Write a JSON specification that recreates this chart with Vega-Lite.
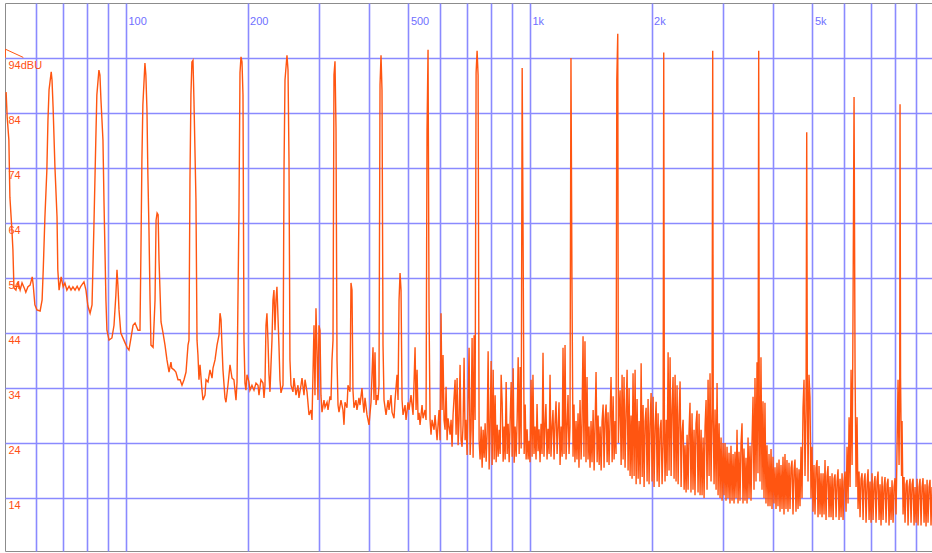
{
"$schema": "https://vega.github.io/schema/vega-lite/v6.json",
"width": 927, "height": 548,
"autosize": {"type": "none"},
"padding": {"left": 5, "top": 3, "right": 0, "bottom": 2},
"background": "white",
"config": {"view": {"stroke": "#8c8c8c", "strokeWidth": 1}},
"datasets": {
"tri": [{"i":0,"f":55.7,"db":94.1},{"i":1,"f":50.3,"db":95.6},{"i":2,"f":50.3,"db":94.1}],
"spec": [
{"f":50.5,"db":87.8},{"f":50.8,"db":83.3},{"f":51.3,"db":79.1},{"f":51.6,"db":68.7},{"f":52.2,"db":62.7},{"f":52.5,"db":59.1},{"f":52.8,"db":52.2},{"f":53.4,"db":51.8},{"f":54.0,"db":53.3},{"f":54.7,"db":51.8},{"f":55.3,"db":53.1},{"f":56.0,"db":52.2},{"f":56.5,"db":51.4},{"f":57.2,"db":52.4},{"f":57.9,"db":52.7},{"f":58.6,"db":54.2},{"f":58.9,"db":52.9},{"f":59.5,"db":49.1},{"f":60.2,"db":48.2},{"f":61.3,"db":48.0},{"f":62.0,"db":50.0},{"f":62.4,"db":55.5},{"f":63.0,"db":65.1},{"f":63.7,"db":73.6},{"f":64.1,"db":82.7},{"f":64.5,"db":88.2},{"f":65.3,"db":91.5},{"f":65.6,"db":90.0},{"f":66.0,"db":85.1},{"f":66.7,"db":74.2},{"f":67.5,"db":65.1},{"f":67.8,"db":55.5},{"f":68.3,"db":51.8},{"f":69.1,"db":54.2},{"f":69.9,"db":52.4},{"f":70.6,"db":53.1},{"f":71.4,"db":51.8},{"f":72.3,"db":52.5},{"f":73.1,"db":51.8},{"f":73.9,"db":52.4},{"f":74.8,"db":51.8},{"f":75.7,"db":52.5},{"f":76.5,"db":51.8},{"f":77.3,"db":52.5},{"f":78.7,"db":53.3},{"f":79.6,"db":51.8},{"f":80.5,"db":48.9},{"f":81.5,"db":47.6},{"f":82.4,"db":49.1},{"f":83.3,"db":63.6},{"f":84.2,"db":79.1},{"f":84.7,"db":87.3},{"f":85.7,"db":91.8},{"f":86.2,"db":90.9},{"f":86.7,"db":86.4},{"f":87.7,"db":79.1},{"f":88.2,"db":68.2},{"f":89.2,"db":50.0},{"f":89.7,"db":44.5},{"f":90.8,"db":42.7},{"f":92.3,"db":43.1},{"f":93.4,"db":45.4},{"f":94.4,"db":50.9},{"f":95.0,"db":55.5},{"f":95.5,"db":52.7},{"f":96.1,"db":48.2},{"f":97.1,"db":44.0},{"f":98.8,"db":42.7},{"f":100.6,"db":41.4},{"f":101.7,"db":40.9},{"f":102.9,"db":43.1},{"f":104.1,"db":45.4},{"f":105.3,"db":45.8},{"f":107.1,"db":44.5},{"f":108.3,"db":44.5},{"f":108.9,"db":59.1},{"f":109.5,"db":75.5},{"f":110.1,"db":85.5},{"f":111.4,"db":93.1},{"f":112.0,"db":90.9},{"f":112.7,"db":84.5},{"f":113.3,"db":72.7},{"f":114.0,"db":62.7},{"f":114.7,"db":50.0},{"f":115.3,"db":41.8},{"f":116.7,"db":41.4},{"f":118.0,"db":50.0},{"f":118.7,"db":64.5},{"f":119.4,"db":65.8},{"f":120.1,"db":65.5},{"f":120.7,"db":57.3},{"f":122.1,"db":46.0},{"f":123.5,"db":44.0},{"f":124.9,"db":41.8},{"f":126.3,"db":39.1},{"f":127.8,"db":36.9},{"f":129.2,"db":38.7},{"f":129.8,"db":37.6},{"f":131.5,"db":37.3},{"f":132.9,"db":36.9},{"f":134.5,"db":35.5},{"f":136.1,"db":35.5},{"f":137.6,"db":34.5},{"f":139.2,"db":35.5},{"f":140.8,"db":36.9},{"f":142.4,"db":41.8},{"f":143.2,"db":42.7},{"f":144.0,"db":71.8},{"f":144.8,"db":87.3},{"f":145.6,"db":93.3},{"f":146.5,"db":93.6},{"f":147.3,"db":86.4},{"f":149.0,"db":68.2},{"f":149.9,"db":42.7},{"f":150.7,"db":40.0},{"f":151.6,"db":35.5},{"f":152.5,"db":38.2},{"f":154.2,"db":33.6},{"f":155.1,"db":31.8},{"f":156.9,"db":32.7},{"f":157.8,"db":35.5},{"f":159.6,"db":35.1},{"f":161.4,"db":37.3},{"f":163.3,"db":35.8},{"f":164.2,"db":37.6},{"f":166.1,"db":39.1},{"f":168.0,"db":41.8},{"f":169.9,"db":43.6},{"f":170.9,"db":47.6},{"f":171.9,"db":46.4},{"f":172.8,"db":41.8},{"f":173.8,"db":37.3},{"f":175.8,"db":32.2},{"f":176.8,"db":31.4},{"f":178.8,"db":34.5},{"f":180.9,"db":38.2},{"f":183.0,"db":35.8},{"f":185.0,"db":35.5},{"f":187.2,"db":31.8},{"f":188.3,"db":35.1},{"f":190.4,"db":66.4},{"f":191.5,"db":91.3},{"f":192.6,"db":94.2},{"f":193.7,"db":93.3},{"f":194.8,"db":87.3},{"f":195.9,"db":42.7},{"f":197.0,"db":34.9},{"f":198.1,"db":33.6},{"f":199.3,"db":36.4},{"f":201.5,"db":35.1},{"f":202.7,"db":33.6},{"f":205.0,"db":34.5},{"f":207.4,"db":33.6},{"f":209.8,"db":34.9},{"f":212.2,"db":34.5},{"f":213.4,"db":32.7},{"f":215.8,"db":35.5},{"f":218.3,"db":34.9},{"f":219.6,"db":32.2},{"f":220.8,"db":34.5},{"f":222.1,"db":45.4},{"f":223.3,"db":47.6},{"f":224.6,"db":42.7},{"f":225.9,"db":36.4},{"f":227.2,"db":33.3},{"f":228.5,"db":38.2},{"f":229.8,"db":42.7},{"f":231.1,"db":50.0},{"f":232.4,"db":51.8},{"f":233.8,"db":44.5},{"f":235.1,"db":50.0},{"f":236.4,"db":52.4},{"f":239.1,"db":41.8},{"f":240.5,"db":35.5},{"f":241.9,"db":33.1},{"f":244.7,"db":34.5},{"f":246.1,"db":73.6},{"f":247.5,"db":90.0},{"f":250.3,"db":94.5},{"f":251.8,"db":91.8},{"f":253.2,"db":75.5},{"f":254.6,"db":39.1},{"f":256.1,"db":34.5},{"f":259.0,"db":33.3},{"f":260.5,"db":35.8},{"f":263.5,"db":32.7},{"f":266.5,"db":34.5},{"f":268.0,"db":32.2},{"f":271.1,"db":34.5},{"f":272.7,"db":35.8},{"f":275.8,"db":32.7},{"f":277.4,"db":35.5},{"f":280.6,"db":33.3},{"f":283.8,"db":29.1},{"f":287.0,"db":30.0},{"f":288.7,"db":28.2},{"f":292.0,"db":45.4},{"f":293.6,"db":32.7},{"f":295.3,"db":48.5},{"f":297.0,"db":40.9},{"f":298.7,"db":31.8},{"f":300.4,"db":45.4},{"f":302.1,"db":44.5},{"f":303.8,"db":32.7},{"f":305.6,"db":29.6},{"f":309.1,"db":31.8},{"f":310.9,"db":30.5},{"f":314.5,"db":31.4},{"f":316.3,"db":30.0},{"f":319.8,"db":32.5},{"f":321.7,"db":31.8},{"f":323.5,"db":39.1},{"f":325.4,"db":42.7},{"f":327.2,"db":90.9},{"f":329.1,"db":93.4},{"f":331.0,"db":81.3},{"f":332.9,"db":39.1},{"f":334.8,"db":30.9},{"f":336.7,"db":29.6},{"f":340.5,"db":31.8},{"f":344.4,"db":30.0},{"f":346.4,"db":27.3},{"f":348.4,"db":31.4},{"f":352.4,"db":30.4},{"f":354.4,"db":34.5},{"f":358.5,"db":33.3},{"f":360.5,"db":53.1},{"f":362.6,"db":51.8},{"f":364.6,"db":33.6},{"f":366.7,"db":30.4},{"f":370.9,"db":31.8},{"f":373.0,"db":30.0},{"f":377.3,"db":32.2},{"f":379.5,"db":30.9},{"f":383.8,"db":34.0},{"f":386.0,"db":31.4},{"f":388.2,"db":29.5},{"f":390.5,"db":32.2},{"f":395.0,"db":29.1},{"f":399.5,"db":27.3},{"f":404.1,"db":31.4},{"f":408.7,"db":41.4},{"f":411.0,"db":31.8},{"f":413.4,"db":40.5},{"f":415.8,"db":30.9},{"f":418.1,"db":32.7},{"f":420.5,"db":31.8},{"f":422.9,"db":34.5},{"f":425.4,"db":89.1},{"f":427.8,"db":94.5},{"f":430.2,"db":88.2},{"f":432.7,"db":41.8},{"f":435.2,"db":31.8},{"f":440.2,"db":29.1},{"f":445.3,"db":31.8},{"f":447.8,"db":30.0},{"f":452.9,"db":32.7},{"f":455.5,"db":29.6},{"f":460.7,"db":28.5},{"f":463.4,"db":31.8},{"f":468.7,"db":36.4},{"f":471.4,"db":31.8},{"f":474.1,"db":50.0},{"f":476.8,"db":54.9},{"f":479.5,"db":51.8},{"f":482.3,"db":31.8},{"f":485.0,"db":29.1},{"f":490.6,"db":30.9},{"f":493.4,"db":28.2},{"f":499.0,"db":31.4},{"f":501.9,"db":30.0},{"f":507.6,"db":32.7},{"f":513.5,"db":29.1},{"f":516.4,"db":35.1},{"f":519.4,"db":41.4},{"f":522.4,"db":30.0},{"f":525.4,"db":37.3},{"f":528.4,"db":28.2},{"f":531.4,"db":29.5},{"f":534.4,"db":27.3},{"f":540.5,"db":30.9},{"f":543.6,"db":28.5},{"f":549.8,"db":30.0},{"f":553.0,"db":28.2},{"f":556.1,"db":80.9},{"f":559.3,"db":95.5},{"f":562.5,"db":48.2},{"f":565.7,"db":28.2},{"f":568.9,"db":25.5},{"f":572.2,"db":28.2},{"f":578.8,"db":26.4},{"f":582.1,"db":29.1},{"f":588.8,"db":24.5},{"f":592.2,"db":27.3},{"f":595.5,"db":30.0},{"f":598.9,"db":24.5},{"f":602.3,"db":47.6},{"f":605.8,"db":30.0},{"f":609.2,"db":40.0},{"f":612.7,"db":28.2},{"f":616.3,"db":26.4},{"f":619.8,"db":34.2},{"f":623.4,"db":24.5},{"f":626.9,"db":28.5},{"f":634.1,"db":25.5},{"f":637.7,"db":28.2},{"f":641.4,"db":23.3},{"f":645.0,"db":29.1},{"f":652.5,"db":35.5},{"f":656.2,"db":25.5},{"f":660.0,"db":35.8},{"f":663.8,"db":23.6},{"f":667.5,"db":28.2},{"f":671.3,"db":38.2},{"f":675.2,"db":24.5},{"f":679.0,"db":23.3},{"f":682.9,"db":27.3},{"f":686.8,"db":39.5},{"f":690.8,"db":24.5},{"f":694.7,"db":28.2},{"f":698.7,"db":21.8},{"f":702.7,"db":31.8},{"f":706.7,"db":41.3},{"f":710.8,"db":21.8},{"f":714.8,"db":26.4},{"f":718.9,"db":43.1},{"f":723.0,"db":21.3},{"f":727.2,"db":43.6},{"f":731.3,"db":28.2},{"f":735.5,"db":91.3},{"f":739.7,"db":95.3},{"f":743.9,"db":90.9},{"f":748.2,"db":24.5},
{"f":752.5,"db":21.0},{"f":756.9,"db":27.0},{"f":761.2,"db":19.5},{"f":765.6,"db":26.4},{"f":770.0,"db":21.3},{"f":774.3,"db":27.6},{"f":778.8,"db":20.6},{"f":783.3,"db":26.0},{"f":787.7,"db":40.7},{"f":792.2,"db":19.2},{"f":796.7,"db":27.0},{"f":801.3,"db":38.9},{"f":805.9,"db":20.0},{"f":810.6,"db":37.3},{"f":815.2,"db":21.0},{"f":819.8,"db":32.7},{"f":824.5,"db":20.5},{"f":829.3,"db":27.3},{"f":834.0,"db":21.5},{"f":838.8,"db":26.4},{"f":843.5,"db":22.0},{"f":848.4,"db":36.4},{"f":853.3,"db":31.4},{"f":858.1,"db":20.6},{"f":863.0,"db":27.0},{"f":867.9,"db":21.0},{"f":872.9,"db":35.1},{"f":877.9,"db":22.0},{"f":882.9,"db":27.5},{"f":888.0,"db":20.5},{"f":893.0,"db":28.0},{"f":898.2,"db":35.1},{"f":903.4,"db":21.5},{"f":908.5,"db":37.6},{"f":913.7,"db":20.4},{"f":918.9,"db":27.0},{"f":924.2,"db":21.5},{"f":929.5,"db":28.5},{"f":934.8,"db":39.6},{"f":940.1,"db":22.0},{"f":945.4,"db":37.8},{"f":950.9,"db":23.0},{"f":956.4,"db":92.2},{"f":961.8,"db":58.5},{"f":967.3,"db":22.0},{"f":972.8,"db":31.0},{"f":978.2,"db":21.0},{"f":983.7,"db":26.5},{"f":989.1,"db":21.0},{"f":994.6,"db":24.4},{"f":1000,"db":20.5},
{"f":1006,"db":35.5},{"f":1012,"db":21.5},{"f":1017,"db":36.4},{"f":1023,"db":22.0},{"f":1029,"db":27.0},{"f":1035,"db":21.0},{"f":1041,"db":31.1},{"f":1047,"db":22.5},{"f":1053,"db":26.5},{"f":1059,"db":20.5},{"f":1065,"db":27.5},{"f":1071,"db":22.0},{"f":1077,"db":40.4},{"f":1083,"db":21.5},{"f":1089,"db":27.0},{"f":1095,"db":31.1},{"f":1102,"db":21.0},{"f":1108,"db":26.6},{"f":1115,"db":22.0},{"f":1121,"db":36.4},{"f":1127,"db":21.5},{"f":1134,"db":27.0},{"f":1140,"db":30.0},{"f":1147,"db":21.0},{"f":1153,"db":27.5},{"f":1160,"db":31.6},{"f":1167,"db":22.0},{"f":1173,"db":26.5},{"f":1180,"db":31.4},{"f":1187,"db":20.0},{"f":1194,"db":27.0},{"f":1201,"db":21.5},{"f":1207,"db":41.3},{"f":1214,"db":22.0},{"f":1221,"db":41.8},{"f":1228,"db":21.0},{"f":1235,"db":27.0},{"f":1242,"db":32.7},{"f":1249,"db":22.0},{"f":1256,"db":27.0},{"f":1263,"db":94.0},{"f":1270,"db":54.2},{"f":1278,"db":21.5},{"f":1285,"db":31.0},{"f":1292,"db":20.5},{"f":1300,"db":28.0},{"f":1307,"db":21.0},{"f":1315,"db":29.4},{"f":1322,"db":19.5},{"f":1330,"db":31.8},{"f":1338,"db":21.0},{"f":1345,"db":27.5},{"f":1353,"db":43.4},{"f":1360,"db":21.5},{"f":1368,"db":42.5},{"f":1376,"db":20.5},{"f":1384,"db":36.0},{"f":1392,"db":21.0},{"f":1400,"db":27.0},{"f":1408,"db":19.5},{"f":1416,"db":28.0},{"f":1424,"db":20.5},{"f":1433,"db":30.0},{"f":1441,"db":19.0},{"f":1449,"db":27.0},{"f":1457,"db":36.9},{"f":1466,"db":20.5},{"f":1474,"db":29.0},{"f":1483,"db":20.0},{"f":1491,"db":27.0},{"f":1500,"db":19.0},{"f":1508,"db":28.0},{"f":1517,"db":31.0},{"f":1525,"db":19.5},{"f":1534,"db":28.5},{"f":1543,"db":31.0},{"f":1552,"db":20.5},{"f":1560,"db":29.6},{"f":1569,"db":20.0},{"f":1578,"db":28.0},{"f":1587,"db":36.0},{"f":1597,"db":20.5},{"f":1606,"db":32.5},{"f":1615,"db":21.0},{"f":1624,"db":28.0},{"f":1633,"db":22.0},{"f":1640,"db":90.0},{"f":1649,"db":98.4},{"f":1655,"db":24.0},{"f":1661,"db":29.0},{"f":1671,"db":33.6},{"f":1681,"db":20.0},{"f":1690,"db":36.4},{"f":1700,"db":21.0},{"f":1709,"db":36.0},{"f":1719,"db":19.5},{"f":1729,"db":29.5},{"f":1739,"db":37.3},{"f":1749,"db":19.0},{"f":1759,"db":34.0},{"f":1769,"db":18.0},
{"f":1779,"db":29.0},{"f":1789,"db":17.5},{"f":1799,"db":36.7},{"f":1810,"db":18.0},{"f":1820,"db":37.3},{"f":1831,"db":16.5},{"f":1841,"db":32.0},{"f":1852,"db":17.5},{"f":1862,"db":28.0},{"f":1873,"db":16.5},{"f":1884,"db":38.5},{"f":1895,"db":17.8},{"f":1905,"db":30.9},{"f":1916,"db":16.0},{"f":1927,"db":28.0},{"f":1938,"db":30.4},{"f":1949,"db":17.0},{"f":1960,"db":32.0},{"f":1971,"db":16.5},{"f":1982,"db":27.5},{"f":1994,"db":33.1},{"f":2005,"db":17.0},{"f":2017,"db":32.4},{"f":2028,"db":16.0},{"f":2040,"db":27.0},{"f":2052,"db":31.5},{"f":2064,"db":17.0},{"f":2075,"db":29.4},{"f":2087,"db":16.0},{"f":2099,"db":26.5},{"f":2111,"db":28.2},{"f":2123,"db":16.5},{"f":2135,"db":24.0},{"f":2143,"db":95.0},{"f":2151,"db":26.0},{"f":2159,"db":17.0},{"f":2172,"db":28.2},{"f":2184,"db":18.0},{"f":2197,"db":40.5},{"f":2209,"db":19.0},{"f":2222,"db":39.6},{"f":2235,"db":18.0},{"f":2247,"db":30.0},{"f":2260,"db":36.0},{"f":2273,"db":17.5},{"f":2286,"db":36.4},{"f":2299,"db":17.0},{"f":2312,"db":34.5},{"f":2326,"db":16.5},{"f":2339,"db":29.0},{"f":2352,"db":35.2},{"f":2366,"db":16.0},{"f":2379,"db":26.0},{"f":2393,"db":28.2},{"f":2407,"db":15.5},{"f":2420,"db":23.6},{"f":2434,"db":15.0},{"f":2448,"db":25.5},{"f":2462,"db":15.5},{"f":2475,"db":26.0},{"f":2489,"db":31.3},{"f":2503,"db":15.0},{"f":2518,"db":29.4},{"f":2532,"db":15.5},{"f":2547,"db":26.4},{"f":2561,"db":14.5},{"f":2576,"db":27.5},{"f":2591,"db":29.9},{"f":2606,"db":15.0},{"f":2621,"db":29.3},{"f":2636,"db":14.5},
{"f":2651,"db":26.4},{"f":2666,"db":14.5},{"f":2682,"db":25.0},{"f":2697,"db":14.0},{"f":2712,"db":27.0},{"f":2728,"db":31.8},{"f":2743,"db":15.5},{"f":2759,"db":35.5},{"f":2775,"db":18.0},{"f":2790,"db":36.7},{"f":2806,"db":17.0},{"f":2822,"db":30.0},{"f":2833,"db":95.3},{"f":2842,"db":28.0},{"f":2855,"db":16.5},{"f":2871,"db":30.1},{"f":2888,"db":15.5},{"f":2904,"db":34.9},{"f":2921,"db":14.5},{"f":2938,"db":27.6},{"f":2954,"db":14.0},{"f":2971,"db":25.0},{"f":2988,"db":13.5},{"f":3005,"db":24.0},{"f":3022,"db":14.5},{"f":3039,"db":24.0},{"f":3056,"db":13.5},{"f":3074,"db":23.3},{"f":3091,"db":14.0},{"f":3109,"db":22.2},{"f":3126,"db":13.0},{"f":3144,"db":23.5},{"f":3163,"db":13.5},{"f":3181,"db":22.0},{"f":3199,"db":13.0},{"f":3217,"db":22.4},{"f":3236,"db":14.0},{"f":3254,"db":26.4},{"f":3273,"db":13.0},{"f":3291,"db":22.4},{"f":3310,"db":13.5},{"f":3329,"db":24.0},{"f":3348,"db":27.6},{"f":3367,"db":13.0},{"f":3386,"db":23.0},{"f":3405,"db":13.5},{"f":3425,"db":21.3},{"f":3445,"db":13.0},{"f":3465,"db":25.0},{"f":3484,"db":14.0},{"f":3504,"db":23.5},{"f":3524,"db":13.5},{"f":3544,"db":24.0},{"f":3565,"db":32.4},{"f":3585,"db":15.5},{"f":3605,"db":35.8},{"f":3626,"db":17.0},{"f":3647,"db":38.7},{"f":3667,"db":18.5},{"f":3682,"db":95.3},{"f":3694,"db":30.0},{"f":3709,"db":17.0},{"f":3730,"db":39.6},{"f":3752,"db":15.5},{"f":3773,"db":31.6},{"f":3795,"db":14.0},{"f":3816,"db":31.3},{"f":3838,"db":13.0},{"f":3860,"db":23.6},{"f":3883,"db":12.5},{"f":3905,"db":22.0},{"f":3927,"db":12.5},{"f":3950,"db":22.9},{"f":3972,"db":12.0},{"f":3995,"db":21.5},{"f":4018,"db":13.0},{"f":4040,"db":19.6},{"f":4064,"db":12.0},{"f":4087,"db":20.4},{"f":4110,"db":12.5},{"f":4134,"db":21.0},{"f":4157,"db":11.5},{"f":4181,"db":20.0},{"f":4205,"db":12.0},{"f":4229,"db":21.5},{"f":4253,"db":11.0},{"f":4277,"db":22.0},{"f":4302,"db":12.0},{"f":4326,"db":20.9},{"f":4351,"db":11.5},{"f":4376,"db":20.4},{"f":4401,"db":12.0},{"f":4426,"db":19.5},{"f":4452,"db":20.8},{"f":4477,"db":11.0},{"f":4503,"db":19.0},{"f":4528,"db":21.0},{"f":4554,"db":11.5},{"f":4580,"db":19.5},{"f":4607,"db":12.0},{"f":4633,"db":19.2},{"f":4659,"db":12.5},
{"f":4686,"db":23.3},{"f":4713,"db":14.0},{"f":4740,"db":30.4},{"f":4767,"db":35.5},{"f":4794,"db":18.0},{"f":4822,"db":30.0},{"f":4841,"db":80.5},{"f":4857,"db":36.4},{"f":4877,"db":17.0},{"f":4904,"db":36.4},{"f":4932,"db":32.2},{"f":4961,"db":14.0},{"f":4989,"db":23.3},{"f":5018,"db":11.5},{"f":5046,"db":20.0},{"f":5075,"db":11.0},{"f":5104,"db":19.5},{"f":5134,"db":20.9},{"f":5163,"db":10.5},{"f":5193,"db":19.8},{"f":5222,"db":11.0},{"f":5252,"db":18.5},{"f":5282,"db":10.5},{"f":5313,"db":18.5},{"f":5343,"db":11.0},{"f":5373,"db":20.9},{"f":5404,"db":10.0},{"f":5435,"db":18.0},{"f":5466,"db":19.8},{"f":5497,"db":10.5},{"f":5528,"db":18.0},{"f":5560,"db":10.5},{"f":5593,"db":18.5},{"f":5625,"db":10.0},{"f":5657,"db":17.5},{"f":5689,"db":18.3},{"f":5722,"db":10.5},{"f":5755,"db":17.0},{"f":5787,"db":19.2},{"f":5820,"db":10.0},{"f":5853,"db":17.5},{"f":5887,"db":10.5},{"f":5921,"db":18.5},{"f":5955,"db":10.0},{"f":5988,"db":17.0},{"f":6022,"db":18.8},{"f":6057,"db":11.5},{"f":6092,"db":23.3},{"f":6127,"db":13.0},{"f":6162,"db":28.7},{"f":6197,"db":16.0},{"f":6233,"db":37.3},{"f":6269,"db":20.0},{"f":6293,"db":38.2},{"f":6340,"db":86.9},{"f":6376,"db":37.3},{"f":6413,"db":16.0},{"f":6450,"db":28.7},{"f":6486,"db":12.0},{"f":6523,"db":18.8},{"f":6560,"db":10.5},{"f":6598,"db":17.5},{"f":6636,"db":18.5},{"f":6674,"db":10.0},{"f":6712,"db":17.0},{"f":6750,"db":18.5},{"f":6789,"db":9.5},{"f":6828,"db":16.5},{"f":6867,"db":19.2},{"f":6906,"db":10.0},{"f":6945,"db":17.0},{"f":6985,"db":9.5},{"f":7025,"db":18.5},{"f":7065,"db":10.0},{"f":7105,"db":16.5},{"f":7145,"db":18.0},{"f":7186,"db":9.5},{"f":7228,"db":17.0},{"f":7269,"db":18.8},{"f":7311,"db":10.0},{"f":7352,"db":16.5},{"f":7394,"db":9.0},{"f":7437,"db":17.9},{"f":7479,"db":10.0},{"f":7522,"db":16.0},{"f":7564,"db":17.8},{"f":7608,"db":9.5},{"f":7652,"db":16.5},{"f":7695,"db":17.5},{"f":7739,"db":9.0},{"f":7783,"db":16.0},{"f":7828,"db":10.0},{"f":7873,"db":17.2},{"f":7918,"db":9.5},{"f":7963,"db":16.0},{"f":8008,"db":17.6},{"f":8054,"db":11.0},{"f":8101,"db":23.3},{"f":8147,"db":35.5},{"f":8194,"db":20.0},{"f":8226,"db":36.0},{"f":8240,"db":85.6},{"f":8264,"db":35.8},{"f":8311,"db":18.0},{"f":8335,"db":28.0},{"f":8383,"db":11.0},{"f":8430,"db":17.8},{"f":8478,"db":9.5},{"f":8527,"db":16.5},{"f":8576,"db":17.3},{"f":8625,"db":9.0},{"f":8674,"db":16.0},{"f":8723,"db":17.5},{"f":8773,"db":9.5},{"f":8824,"db":16.5},{"f":8874,"db":17.5},{"f":8925,"db":9.0},{"f":8975,"db":16.0},{"f":9027,"db":9.5},{"f":9079,"db":17.5},{"f":9131,"db":9.0},{"f":9182,"db":16.0},{"f":9234,"db":17.5},{"f":9287,"db":9.0},{"f":9341,"db":16.0},{"f":9394,"db":17.6},{"f":9448,"db":9.5},{"f":9501,"db":16.5},{"f":9556,"db":8.8},{"f":9611,"db":17.3},{"f":9665,"db":9.5},{"f":9720,"db":16.0},{"f":9775,"db":17.3},{"f":9831,"db":9.0},{"f":9887,"db":16.0}
]
},
"layer": [
{
"data": {"name": "spec"},
"mark": {"type": "line", "color": "#ff5511", "strokeWidth": 1.4, "clip": true},
"encoding": {
"x": {"field": "f", "type": "quantitative",
"scale": {"type": "log", "domain": [50.18, 9886], "nice": false},
"axis": {"orient": "top", "title": null,
"values": [60,70,80,90,100,200,300,400,500,600,700,800,900,1000,2000,3000,4000,5000,6000,7000,8000,9000],
"grid": true, "gridColor": "#8a8aff", "gridWidth": 1.6, "gridOpacity": 1,
"domain": false, "ticks": false, "tickSize": 0,
"labelPadding": -21, "labelBaseline": "alphabetic", "labelAlign": "left", "labelOffset": 2,
"labelColor": "#7070ff", "labelFont": "Liberation Sans", "labelFontSize": 11,
"labelFlush": false, "labelOverlap": false,
"labelExpr": "datum.value==100?'100':datum.value==200?'200':datum.value==500?'500':datum.value==1000?'1k':datum.value==2000?'2k':datum.value==5000?'5k':''"}},
"y": {"field": "db", "type": "quantitative",
"scale": {"domain": [4.36, 104], "nice": false, "zero": false},
"axis": {"title": null, "values": [14,24,34,44,54,64,74,84,94],
"grid": true, "gridColor": "#8a8aff", "gridWidth": 1.6, "gridOpacity": 1,
"domain": false, "ticks": false, "tickSize": 0,
"labelPadding": -3, "labelAlign": "left", "labelBaseline": "top", "labelOffset": 2,
"labelColor": "#ff5014", "labelFont": "Liberation Sans", "labelFontSize": 11,
"labelFlush": false, "labelOverlap": false,
"labelExpr": "datum.value==94?'94dBU':datum.label"}}
}
},
{
"data": {"name": "tri"},
"mark": {"type": "line", "color": "#ff5511", "strokeWidth": 1, "clip": true},
"encoding": {
"x": {"field": "f", "type": "quantitative", "scale": {"type": "log", "domain": [50.18, 9886], "nice": false}},
"y": {"field": "db", "type": "quantitative", "scale": {"domain": [4.36, 104], "nice": false, "zero": false}},
"order": {"field": "i"}
}
}
]
}
